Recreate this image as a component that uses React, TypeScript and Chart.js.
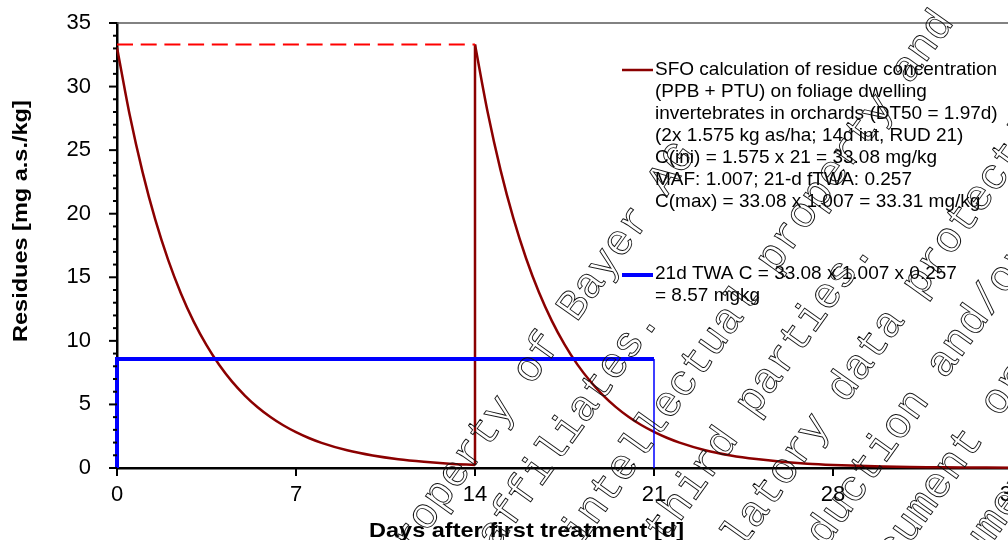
import { useEffect, useRef } from "react";
import { Chart, registerables } from "chart.js";

Chart.register(...registerables);

// Residue decline after the first application (days, mg a.s./kg)
const firstDays = [0, 0.5, 1, 1.5, 2, 2.5, 3, 3.5, 4, 4.5, 5, 5.5, 6, 6.5, 7, 7.5, 8, 9, 10, 11, 12, 13, 14];
const firstResidues = [33.08, 27.74, 23.27, 19.51, 16.37, 13.73, 11.51, 9.66, 8.1, 6.79, 5.7, 4.78, 4.01, 3.36, 2.82, 2.36, 1.98, 1.39, 0.98, 0.69, 0.49, 0.34, 0.24];

// Second application on day 14
const jumpDays = [14, 14];
const jumpResidues = [0.24, 33.31];

// Residue decline after the second application
const secondDays = [14, 14.5, 15, 15.5, 16, 16.5, 17, 17.5, 18, 18.5, 19, 19.5, 20, 20.5, 21, 21.5, 22, 23, 24, 25, 26, 27, 28, 29, 30, 31, 32, 33, 34, 35];
const secondResidues = [33.31, 27.94, 23.43, 19.65, 16.48, 13.82, 11.59, 9.72, 8.15, 6.84, 5.73, 4.81, 4.03, 3.38, 2.84, 2.38, 2.0, 1.4, 0.99, 0.7, 0.49, 0.34, 0.24, 0.17, 0.12, 0.08, 0.06, 0.04, 0.03, 0.02];

// C(max) reference level
const cmaxDays = [0, 14];
const cmaxResidues = [33.31, 33.31];

// 21-day time-weighted average
const twaDays = [0, 0, 21];
const twaResidues = [0, 8.57, 8.57];
const twaEndDays = [21, 21];
const twaEndResidues = [8.57, 0];

const xTickValues = [0, 7, 14, 21, 28, 35];
const yTickValues = [0, 5, 10, 15, 20, 25, 30, 35];

const xTitle = "Days after first treatment [d]";
const yTitle = "Residues [mg a.s./kg]";

const sfoLegend = [
  "SFO calculation of residue concentration",
  "(PPB + PTU) on foliage dwelling",
  "invertebrates in orchards (DT50 = 1.97d)",
  "(2x 1.575 kg as/ha; 14d int, RUD 21)",
  "C(ini) = 1.575 x 21 = 33.08 mg/kg",
  "MAF: 1.007; 21-d fTWA: 0.257",
  "C(max) = 33.08 x 1.007 = 33.31 mg/kg",
];
const twaLegend = ["21d TWA C = 33.08 x 1.007 x 0.257", "= 8.57 mgkg"];

// Ownership notice printed diagonally over the page
const notice = [
  "This document is the property of Bayer AG",
  "and/or any of its affiliates.",
  "It may be subject to rights such as intellectual property and",
  "copy rights of the owner and third parties.",
  "Furthermore, this document may fall under a regulatory data protection regime.",
  "any publication, distribution, reproduction and/or",
  "any commercial exploitation and use of this document or its contents",
  "without the permission of the owner of this document may therefore",
];

const SANS = '"Liberation Sans", Arial, sans-serif';
const MONO = '"Liberation Mono", "Courier New", monospace';

const pts = (xs: number[], ys: number[]) => xs.map((x, i) => ({ x, y: ys[i] }));

const decorations = {
  id: "decorations",
  afterDraw(chart: any) {
    const { ctx, chartArea, scales } = chart;
    const xs = scales.x;
    const ys = scales.y;
    ctx.save();

    // top frame
    ctx.strokeStyle = "#595959";
    ctx.lineWidth = 1.5;
    ctx.beginPath();
    ctx.moveTo(chartArea.left, chartArea.top);
    ctx.lineTo(chartArea.right + 2, chartArea.top);
    ctx.stroke();

    // y tick marks: major every 5, minor every 1
    ctx.strokeStyle = "#000";
    ctx.lineWidth = 2;
    for (let v = ys.min; v <= ys.max; v += 1) {
      const py = ys.getPixelForValue(v);
      const len = v % 5 === 0 ? 8 : 4;
      ctx.beginPath();
      ctx.moveTo(chartArea.left - len, py);
      ctx.lineTo(chartArea.left, py);
      ctx.stroke();
    }
    // x tick marks
    for (const v of xTickValues) {
      const px = xs.getPixelForValue(v);
      ctx.beginPath();
      ctx.moveTo(px, chartArea.bottom);
      ctx.lineTo(px, chartArea.bottom + 8);
      ctx.stroke();
    }

    // axis titles
    ctx.fillStyle = "#000";
    ctx.font = `bold 21px ${SANS}`;
    ctx.textAlign = "left";
    ctx.textBaseline = "alphabetic";
    ctx.save();
    ctx.translate(369, 537);
    ctx.scale(1.12, 1);
    ctx.fillText(xTitle, 0, 0);
    ctx.restore();
    ctx.save();
    ctx.translate(27, 342);
    ctx.rotate(-Math.PI / 2);
    ctx.scale(1.12, 1);
    ctx.fillText(yTitle, 0, 0);
    ctx.restore();

    // legend
    const lx = chartArea.right - 390;
    ctx.font = `19px ${SANS}`;
    ctx.textBaseline = "middle";
    ctx.strokeStyle = "#8B0000";
    ctx.lineWidth = 2.5;
    ctx.beginPath();
    ctx.moveTo(lx, 70);
    ctx.lineTo(lx + 31, 70);
    ctx.stroke();
    sfoLegend.forEach((t, i) => ctx.fillText(t, lx + 33, 69.5 + i * 22));
    ctx.strokeStyle = "#0000FF";
    ctx.lineWidth = 4;
    ctx.beginPath();
    ctx.moveTo(lx, 275);
    ctx.lineTo(lx + 31, 275);
    ctx.stroke();
    twaLegend.forEach((t, i) => ctx.fillText(t, lx + 33, 274 + i * 22));

    // diagonal outlined notice
    ctx.save();
    ctx.rotate((-54.5 * Math.PI) / 180);
    ctx.font = `43px ${MONO}`;
    ctx.textAlign = "center";
    ctx.textBaseline = "alphabetic";
    ctx.strokeStyle = "#111";
    ctx.lineWidth = 0.9;
    notice.forEach((t, i) => ctx.strokeText(t, -250.8, 657 + i * 66.6));
    ctx.restore();

    ctx.restore();
  },
};

export default function App() {
  const ref = useRef<HTMLCanvasElement | null>(null);

  useEffect(() => {
    if (!ref.current) return;
    const tickFont = { family: SANS, size: 22 };
    const chart = new Chart(ref.current, {
      type: "line",
      data: {
        datasets: [
          { data: pts(twaDays, twaResidues), borderColor: "#0000FF", borderWidth: 4, pointRadius: 0, tension: 0, clip: false } as any,
          { data: pts(twaEndDays, twaEndResidues), borderColor: "#0000FF", borderWidth: 1.5, pointRadius: 0, tension: 0, clip: false } as any,
          { data: pts(cmaxDays, cmaxResidues), borderColor: "#FF0000", borderWidth: 2, borderDash: [16, 7.7], pointRadius: 0, tension: 0, clip: false } as any,
          { data: pts(firstDays, firstResidues), borderColor: "#8B0000", borderWidth: 2.5, pointRadius: 0, cubicInterpolationMode: "monotone", clip: false } as any,
          { data: pts(jumpDays, jumpResidues), borderColor: "#8B0000", borderWidth: 2.5, pointRadius: 0, tension: 0, clip: false } as any,
          { data: pts(secondDays, secondResidues), borderColor: "#8B0000", borderWidth: 2.5, pointRadius: 0, cubicInterpolationMode: "monotone", clip: false } as any,
        ],
      },
      options: {
        responsive: false,
        maintainAspectRatio: false,
        devicePixelRatio: 1,
        animation: false,
        parsing: false,
        layout: { padding: { left: 0, right: 28, top: 23, bottom: 0 } },
        plugins: { legend: { display: false }, tooltip: { enabled: false } },
        scales: {
          x: {
            type: "linear",
            min: 0,
            max: 35,
            afterBuildTicks: (s: any) => {
              s.ticks = xTickValues.map((value) => ({ value }));
            },
            afterFit: (s: any) => {
              s.height = 72;
              s.paddingLeft = 0;
              s.paddingRight = 0;
            },
            ticks: { font: tickFont, color: "#000", padding: 14, maxRotation: 0, autoSkip: false },
            grid: { display: false, drawTicks: false },
            border: { display: true, color: "#000", width: 2.5 },
          },
          y: {
            type: "linear",
            min: 0,
            max: 35,
            afterBuildTicks: (s: any) => {
              s.ticks = yTickValues.map((value) => ({ value }));
            },
            afterFit: (s: any) => {
              s.width = 117;
              s.paddingTop = 0;
              s.paddingBottom = 0;
            },
            ticks: { font: tickFont, color: "#000", padding: 26, autoSkip: false },
            grid: { display: false, drawTicks: false },
            border: { display: true, color: "#000", width: 2.5 },
          },
        },
      } as any,
      plugins: [decorations],
    });
    return () => chart.destroy();
  }, []);

  return (
    <div style={{ position: "fixed", left: 0, top: 0, width: 1008, height: 540, overflow: "hidden", background: "#fff" }}>
      <canvas ref={ref} width={1040} height={540} style={{ display: "block", width: 1040, height: 540 }} />
    </div>
  );
}
